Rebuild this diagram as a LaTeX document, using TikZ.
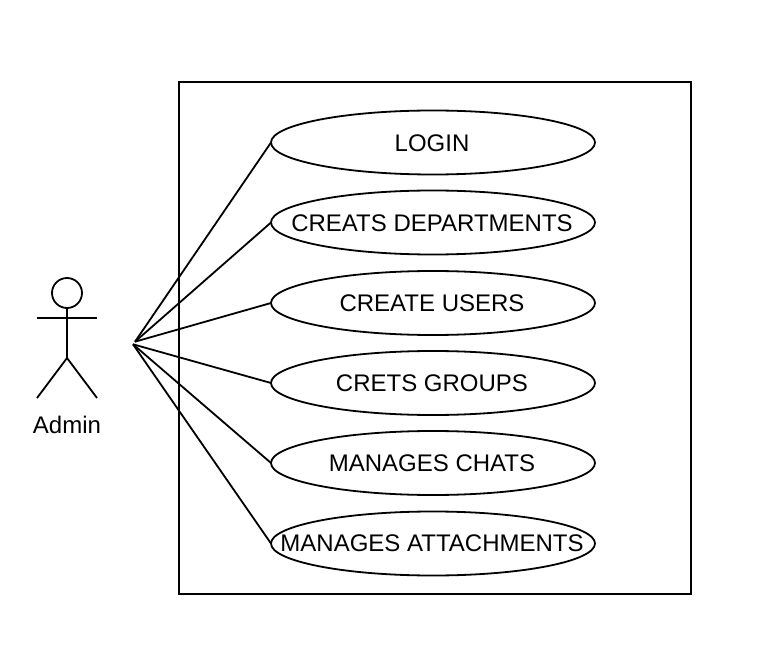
\documentclass[tikz,border=0pt]{standalone}
\usepackage{fontspec}
\setmainfont{Liberation Sans}
\usetikzlibrary{shapes.geometric}
\begin{document}
\begin{tikzpicture}[x=1pt,y=-1pt,
  every node/.style={inner sep=0pt,outer sep=0pt},
  line/.style={draw=black,line width=1.8pt},
  usecase/.style={draw=black,line width=1.8pt,ellipse,fill=white,minimum width=324pt,minimum height=64pt,text=black},
  caption/.style={font=\fontsize{24pt}{26pt}\selectfont,text=black,anchor=base}]
\useasboundingbox (0,0) rectangle (768,660);
\draw[line] (179,82) rectangle (691,594);
\coordinate (hubu) at (135,341.7);
\coordinate (hubl) at (133,344.3);
\node[usecase] (a) at (433,142.5) {};
\node[usecase] (b) at (433,222.5) {};
\node[usecase] (c) at (433,303) {};
\node[usecase] (d) at (433,383) {};
\node[usecase] (e) at (433,463) {};
\node[usecase] (f) at (433,543.5) {};
\node[caption] (ta) at (432,151.7) {LOGIN};
\node[caption] (tb) at (432,231.7) {CREATS DEPARTMENTS};
\node[caption] (tc) at (432,312) {CREATE USERS};
\node[caption] (td) at (432,391.7) {CRETS GROUPS};
\node[caption] (te) at (432,471.7) {MANAGES CHATS};
\node[caption] (tf) at (432,551.7) {MANAGES ATTACHMENTS};
\foreach \n in {a,b,c} \draw[line] (hubu) -- (\n.west);
\foreach \n in {d,e,f} \draw[line] (hubl) -- (\n.west);
\node[draw=black,line width=1.8pt,circle,minimum size=30pt] (head) at (67,293) {};
\coordinate (hip) at (67,358);
\coordinate (la) at (37,318); \coordinate (ra) at (97,318);
\coordinate (lf) at (37,398); \coordinate (rf) at (97,398);
\draw[line] (head.south) -- (hip);
\draw[line] (la) -- (ra);
\draw[line] (lf) -- (hip) -- (rf);
\node[caption] (admin) at (67,433) {Admin};
\end{tikzpicture}
\end{document}
